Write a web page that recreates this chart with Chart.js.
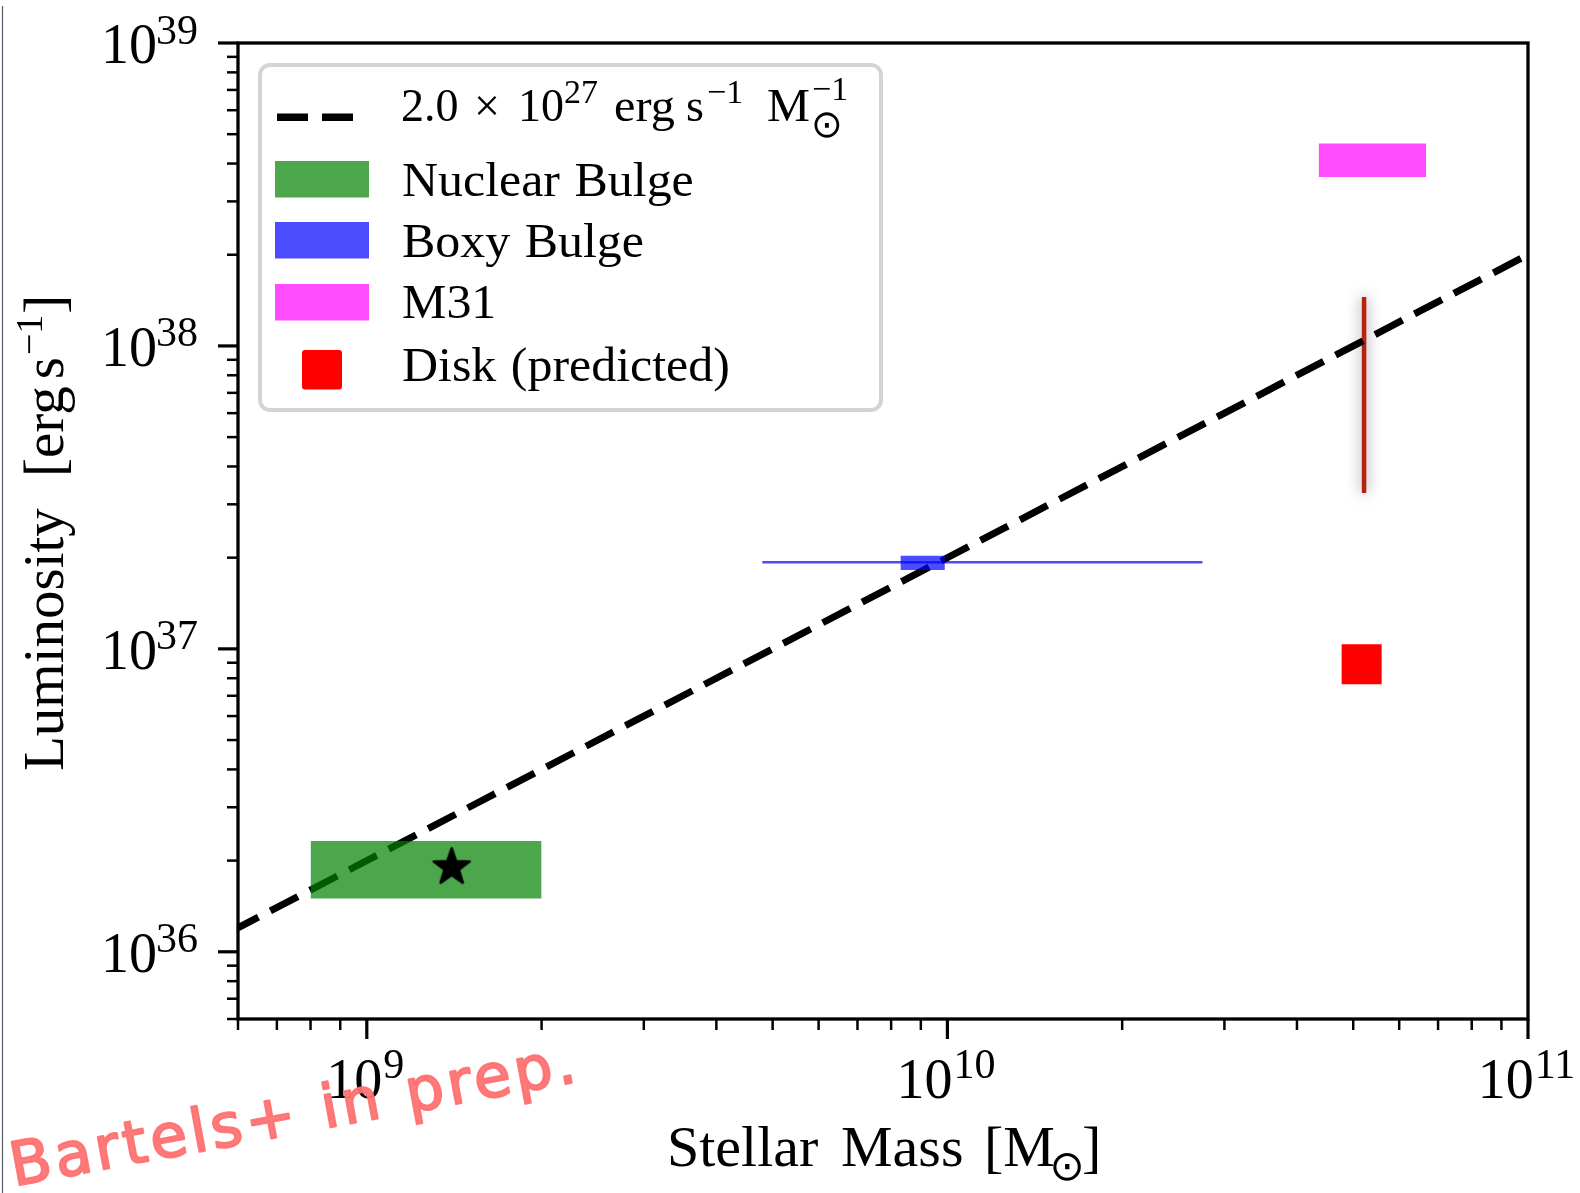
<!DOCTYPE html>
<html><head><meta charset="utf-8">
<script src="https://cdn.jsdelivr.net/npm/chart.js@4.4.0/dist/chart.umd.min.js"></script>
<style>html,body{margin:0;padding:0;background:#fff;overflow:hidden}canvas{display:block}</style>
</head><body>
<canvas id="c" width="1580" height="1193"></canvas>
<script>
// ---------- data ----------
const massLimits = [6e8, 1e11];          // x axis range [Msun]
const lumLimits = [6e35, 1e39];          // y axis range [erg/s]
const xTickExponents = ['9', '10', '11'];
const yTickExponents = ['36', '37', '38', '39'];

const fitMass = [6e8, 1e11];             // 2.0e27 erg/s/Msun line end points
const fitLum = [1.2e36, 2.0e38];

const nuclearMass = [8.0e8, 2.0e9];
const nuclearLum = [1.50e36, 2.32e36];
const nuclearStarMass = [1.4e9];
const nuclearStarLum = [1.9e36];

const boxyLineMass = [4.8e9, 2.75e10];
const boxyLineLum = [1.93e37, 1.93e37];
const boxyMass = [8.3e9, 9.9e9];
const boxyLum = [1.82e37, 2.03e37];

const m31Mass = [4.36e10, 6.68e10];
const m31Lum = [3.61e38, 4.66e38];

const diskRangeMass = [5.22e10, 5.22e10];
const diskRangeLum = [3.27e37, 1.45e38];
const diskPredMass = [5.17e10];
const diskPredLum = [8.9e36];

const legendLabels = ['Nuclear Bulge', 'Boxy Bulge', 'M31', 'Disk (predicted)'];

// ---------- helpers ----------
const F = "'Liberation Serif','Times New Roman',serif";
const pts = (xs, ys) => xs.map((v, i) => ({x: v, y: ys[i]}));
const edge = (xs, yv) => [{x: xs[0], y: yv}, {x: xs[1], y: yv}];
const GREEN = 'rgba(0,128,0,0.7)', BLUE = 'rgba(0,0,255,0.7)', MAG = 'rgba(255,0,255,0.7)';

function logTicks(lo, hi) {
  const out = [];
  for (let e = Math.floor(Math.log10(lo)); e <= Math.ceil(Math.log10(hi)); e++)
    for (let k = 1; k < 10; k++) {
      const v = k * Math.pow(10, e);
      if (v >= lo * 0.999 && v <= hi * 1.001) out.push({value: v, major: k === 1});
    }
  return out;
}

function makeStar(R) {
  const s = Math.ceil(2 * R + 8);
  const c = document.createElement('canvas'); c.width = s; c.height = s;
  const g = c.getContext('2d');
  g.translate(s / 2, s / 2);
  g.beginPath();
  for (let i = 0; i < 10; i++) {
    const r = i % 2 ? R * 0.40 : R;
    const a = -Math.PI / 2 + i * Math.PI / 5;
    g.lineTo(r * Math.cos(a), r * Math.sin(a));
  }
  g.closePath();
  g.fillStyle = '#000'; g.fill();
  g.lineJoin = 'round'; g.lineWidth = 2.5; g.strokeStyle = '#000'; g.stroke();
  return c;
}

// draw text with left/baseline at (x,y); optional horizontal stretch sx; returns advance width
function txt(ctx, s, px, x, y, fam, sx) {
  ctx.font = px + 'px ' + (fam || F);
  sx = sx || 1;
  if (sx !== 1) {
    ctx.save(); ctx.translate(x, y); ctx.scale(sx, 1); ctx.fillText(s, 0, 0); ctx.restore();
  } else ctx.fillText(s, x, y);
  return ctx.measureText(s).width * sx;
}
function wid(ctx, s, px, fam) { ctx.font = px + 'px ' + (fam || F); return ctx.measureText(s).width; }
function odot(ctx, cx, cy, d) {
  ctx.font = d + "px 'DejaVu Sans'";
  const m = ctx.measureText('⊙');
  const w = m.actualBoundingBoxRight + m.actualBoundingBoxLeft;
  const h = m.actualBoundingBoxAscent + m.actualBoundingBoxDescent;
  ctx.fillText('⊙', cx - w / 2 + m.actualBoundingBoxLeft, cy + h / 2 - m.actualBoundingBoxDescent);
}

// ---------- plugins ----------
const shadowPlugin = {
  id: 'shadow',
  beforeDatasetDraw(chart, args) {
    if (chart.data.datasets[args.index].glow) {
      chart.ctx.save();
      chart.ctx.shadowColor = 'rgba(0,0,0,0.5)';
      chart.ctx.shadowBlur = 14;
    }
  },
  afterDatasetDraw(chart, args) {
    if (chart.data.datasets[args.index].glow) chart.ctx.restore();
  }
};

const decorPlugin = {
  id: 'decor',
  afterDraw(chart) {
    const {ctx, chartArea: a, scales: {x, y}} = chart;
    ctx.save();
    ctx.fillStyle = '#000'; ctx.strokeStyle = '#000'; ctx.textAlign = 'left'; ctx.textBaseline = 'alphabetic';

    // ticks
    for (const tk of y.ticks) {
      const py = y.getPixelForValue(tk.value);
      const len = tk.major ? 20 : 11;
      ctx.lineWidth = tk.major ? 3.2 : 2.5;
      ctx.beginPath(); ctx.moveTo(a.left - len, py); ctx.lineTo(a.left, py); ctx.stroke();
    }
    for (const tk of x.ticks) {
      const px = x.getPixelForValue(tk.value);
      const len = tk.major ? 20 : 11;
      ctx.lineWidth = tk.major ? 3.2 : 2.5;
      ctx.beginPath(); ctx.moveTo(px, a.bottom); ctx.lineTo(px, a.bottom + len); ctx.stroke();
    }
    // frame
    ctx.lineWidth = 3.3;
    ctx.strokeRect(a.left, a.top, a.right - a.left, a.bottom - a.top);

    // y tick labels
    yTickExponents.forEach(e => {
      const py = y.getPixelForValue(Math.pow(10, +e));
      const we = wid(ctx, e, 42);
      const w10 = wid(ctx, '10', 56);
      const xe = 198 - we;
      txt(ctx, '10', 56, xe - w10 + 1, py + 20);
      txt(ctx, e, 42, xe, py + 0.5);
    });
    // x tick labels
    xTickExponents.forEach(e => {
      const px = x.getPixelForValue(Math.pow(10, +e));
      const we = wid(ctx, e, 42);
      const w10 = wid(ctx, '10', 56);
      const left = px - (w10 + we) / 2 - 2;
      txt(ctx, '10', 56, left, 1098);
      txt(ctx, e, 42, left + w10 + 1, 1078);
    });

    // x title
    txt(ctx, 'Stellar', 58, 667, 1166);
    txt(ctx, 'Mass', 58, 841, 1166);
    let xx = 984;
    xx += txt(ctx, '[M', 58, xx, 1166);
    odot(ctx, xx + 12, 1167, 42);
    txt(ctx, ']', 58, xx + 27, 1166);

    // y title (rotated)
    ctx.save();
    ctx.translate(63, 771);
    ctx.rotate(-Math.PI / 2);
    txt(ctx, 'Luminosity', 57, 0, 0);
    let u = 294;
    u += txt(ctx, '[erg', 57, u, 0);
    u += 7;
    u += txt(ctx, 's', 57, u, 0);
    u += 2;
    u += txt(ctx, '\u22121', 38, u, -21);
    txt(ctx, ']', 57, u + 1, 0);
    ctx.restore();

    // legend
    ctx.beginPath();
    ctx.roundRect(260, 65, 621, 345, 10);
    ctx.fillStyle = 'rgba(255,255,255,0.8)'; ctx.fill();
    ctx.lineWidth = 4; ctx.strokeStyle = '#d4d4d4'; ctx.stroke();

    ctx.save();
    ctx.strokeStyle = '#000'; ctx.lineWidth = 7.5; ctx.lineCap = 'butt';
    ctx.setLineDash([31, 14]);
    ctx.beginPath(); ctx.moveTo(277, 117.3); ctx.lineTo(367, 117.3); ctx.stroke();
    ctx.restore();
    ctx.fillStyle = GREEN; ctx.fillRect(275, 161, 94, 36.5);
    ctx.fillStyle = BLUE; ctx.fillRect(275, 222, 94, 36.5);
    ctx.fillStyle = MAG; ctx.fillRect(275, 284, 94, 36.5);
    ctx.fillStyle = '#ff0000'; ctx.beginPath(); ctx.roundRect(302, 350, 40, 39.5, 3); ctx.fill();

    ctx.fillStyle = '#000';
    // row 1: 2.0 × 10^27 erg s^-1 M_sun^-1
    txt(ctx, '2.0', 46, 401, 121);
    txt(ctx, '\u00d7', 46, 474, 121);
    txt(ctx, '10', 46, 518, 121);
    txt(ctx, '27', 34, 564, 103);
    txt(ctx, 'erg', 46, 614, 121, null, 1.05);
    txt(ctx, 's', 46, 686, 121);
    txt(ctx, '\u22121', 34, 707, 103);
    txt(ctx, 'M', 46, 767, 121, null, 1.05);
    txt(ctx, '\u22121', 34, 812, 100);
    odot(ctx, 827, 125, 38);

    ctx.wordSpacing = '2px';
    const rowsY = [195.5, 256.5, 318, 381];
    legendLabels.forEach((s, i) => txt(ctx, s, 48, 402, rowsY[i], null, 1.04));
    ctx.wordSpacing = '0px';

    // watermark
    ctx.save();
    ctx.translate(14, 1186);
    ctx.rotate(-10.5 * Math.PI / 180);
    ctx.letterSpacing = '4px';
    ctx.font = "60px 'DejaVu Sans'";
    ctx.fillStyle = 'rgba(255,112,112,0.92)';
    ctx.strokeStyle = 'rgba(255,112,112,0.92)';
    ctx.lineWidth = 2.2; ctx.lineJoin = 'round';
    ctx.fillText('Bartels+ in prep.', 0, 0);
    ctx.strokeText('Bartels+ in prep.', 0, 0);
    ctx.letterSpacing = '0px';
    ctx.restore();

    // thin frame line at the far left
    ctx.strokeStyle = '#555b68'; ctx.lineWidth = 1.2;
    ctx.beginPath(); ctx.moveTo(2.5, 6); ctx.lineTo(2.5, 1193); ctx.stroke();

    ctx.restore();
  }
};

// ---------- chart ----------
const star = makeStar(19);
const lineBase = {showLine: true, pointRadius: 0, pointHoverRadius: 0, fill: false, tension: 0};

new Chart(document.getElementById('c'), {
  type: 'scatter',
  data: {
    datasets: [
      Object.assign({}, lineBase, {label: 'Disk range', data: pts(diskRangeMass, diskRangeLum),
        borderColor: '#b52212', borderWidth: 4.5, order: 30, glow: true}),
      Object.assign({}, lineBase, {label: 'fit', data: pts(fitMass, fitLum),
        borderColor: '#000', borderWidth: 7, borderDash: [31, 13.5], borderDashOffset: 8, order: 20}),
      Object.assign({}, lineBase, {label: 'Boxy range', data: pts(boxyLineMass, boxyLineLum),
        borderColor: BLUE, borderWidth: 2.5, order: 25}),
      Object.assign({}, lineBase, {label: 'Nuclear Bulge', data: edge(nuclearMass, nuclearLum[1]),
        borderWidth: 0, borderColor: 'rgba(0,0,0,0)', backgroundColor: GREEN, fill: '+1', order: 5}),
      Object.assign({}, lineBase, {label: 'nb low', data: edge(nuclearMass, nuclearLum[0]),
        borderWidth: 0, borderColor: 'rgba(0,0,0,0)', order: 5}),
      Object.assign({}, lineBase, {label: 'Boxy Bulge', data: edge(boxyMass, boxyLum[1]),
        borderWidth: 0, borderColor: 'rgba(0,0,0,0)', backgroundColor: BLUE, fill: '+1', order: 5}),
      Object.assign({}, lineBase, {label: 'bb low', data: edge(boxyMass, boxyLum[0]),
        borderWidth: 0, borderColor: 'rgba(0,0,0,0)', order: 5}),
      Object.assign({}, lineBase, {label: 'M31', data: edge(m31Mass, m31Lum[1]),
        borderWidth: 0, borderColor: 'rgba(0,0,0,0)', backgroundColor: MAG, fill: '+1', order: 5}),
      Object.assign({}, lineBase, {label: 'm31 low', data: edge(m31Mass, m31Lum[0]),
        borderWidth: 0, borderColor: 'rgba(0,0,0,0)', order: 5}),
      {label: 'Nuclear star', data: pts(nuclearStarMass, nuclearStarLum), showLine: false,
        pointStyle: star, pointRadius: 10, order: 1},
      {label: 'Disk (predicted)', data: pts(diskPredMass, diskPredLum), showLine: false,
        pointStyle: 'rect', pointRadius: 28.3, backgroundColor: '#ff0000', borderColor: '#ff0000',
        pointBorderWidth: 0, order: 1}
    ]
  },
  options: {
    responsive: false,
    animation: false,
    events: [],
    devicePixelRatio: 1,
    layout: {padding: {top: 43, right: 52, left: 0, bottom: 0}},
    plugins: {legend: {display: false}, tooltip: {enabled: false}, title: {display: false}},
    scales: {
      x: {
        type: 'logarithmic', min: massLimits[0], max: massLimits[1], bounds: 'data',
        grid: {display: false, drawTicks: false}, border: {display: false},
        ticks: {display: false},
        afterBuildTicks: s => { s.ticks = logTicks(massLimits[0], massLimits[1]); },
        afterFit: s => { s.height = 174; }
      },
      y: {
        type: 'logarithmic', min: lumLimits[0], max: lumLimits[1], bounds: 'data',
        grid: {display: false, drawTicks: false}, border: {display: false},
        ticks: {display: false},
        afterBuildTicks: s => { s.ticks = logTicks(lumLimits[0], lumLimits[1]); },
        afterFit: s => { s.width = 238; }
      }
    }
  },
  plugins: [shadowPlugin, decorPlugin]
});
</script>
</body></html>
